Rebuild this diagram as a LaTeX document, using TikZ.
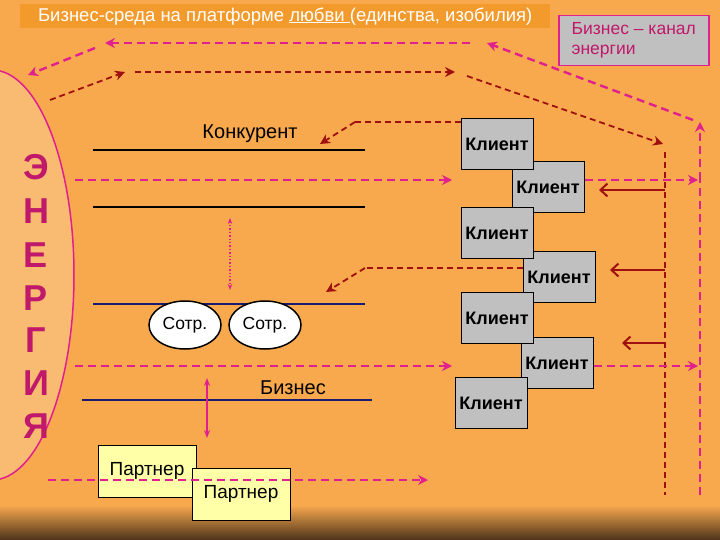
\documentclass[tikz,border=0pt]{standalone}
\usepackage{fontspec}
\setmainfont{Liberation Sans}
\usetikzlibrary{arrows.meta,shapes.geometric}
\definecolor{bg}{HTML}{F8A94E}
\definecolor{bar}{HTML}{F39A2C}
\definecolor{pk}{HTML}{E0208F}
\definecolor{dr}{HTML}{A01010}
\definecolor{nv}{HTML}{1A1A6E}
\definecolor{cl}{HTML}{C0C0C0}
\definecolor{pt}{HTML}{FFFFA8}
\definecolor{mg}{HTML}{C0186A}
\tikzset{
 pdash/.style={pk,line width=2.4pt,dash pattern=on 8pt off 5pt,-{Stealth[length=10pt,width=10pt]}},
 rdash/.style={dr,line width=1.8pt,dash pattern=on 6pt off 4pt,-{Stealth[length=10pt,width=10pt]}},
 rline/.style={dr,line width=1.8pt,dash pattern=on 6pt off 4pt},
 pline/.style={pk,line width=2.4pt,dash pattern=on 8pt off 5pt},
 client/.style={draw=black,line width=1pt,fill=cl,minimum width=72pt,minimum height=51pt,font=\fontsize{18}{20}\bfseries\selectfont,inner sep=1pt},
 partner/.style={draw=black,line width=1pt,fill=pt,minimum width=98pt,minimum height=52pt,font=\fontsize{19}{21}\selectfont,inner sep=1pt},
 sotr/.style={draw=black,line width=1.5pt,fill=white,ellipse,minimum width=72pt,minimum height=48pt,font=\fontsize{17.5}{19}\selectfont,inner sep=0pt},
 hl/.style={line width=2.4pt},
 lbl/.style={font=\fontsize{20}{22}\selectfont},
 ret/.style={dr,line width=2pt,-{Straight Barb[length=7pt,width=13pt]}},
 big/.style={mg,font=\fontsize{36}{36}\bfseries\selectfont}
}
\begin{document}
\begin{tikzpicture}[x=1pt,y=-1pt]
\useasboundingbox (0,0) rectangle (720,540);
\fill[bg] (0,0) rectangle (720,540);
\shade[top color=bg,bottom color=black!60!brown] (0,505) rectangle (720,540);
% title
\node[fill=bar,minimum width=530pt,minimum height=24pt,text=white,font=\fontsize{18.5}{20}\selectfont,anchor=north west,inner sep=1pt] (title) at (20,4) {Бизнес-среда на платформе \underline{любви }(единства, изобилия)};
\node[draw=pk,line width=1.5pt,fill=cl,anchor=north west,minimum width=150pt,minimum height=50pt,align=left,text=mg,font=\fontsize{17.5}{20}\selectfont,inner sep=3pt] (chan) at (558,15) {Бизнес -- канал\\энергии};
% energy ellipse
\fill[bg!80!white,draw=pk,line width=1.5pt] (-8,275) ellipse (82 and 205);
\node[big] (e1) at (36,167) {Э};
\node[big] (e2) at (36,211) {Н};
\node[big] (e3) at (36,255) {Е};
\node[big] (e4) at (36,298) {Р};
\node[big] (e5) at (36,340) {Г};
\node[big] (e6) at (36,383) {И};
\node[big] (e7) at (36,426) {Я};
% lines
\draw[hl,black] (93,150) -- (365,150);
\draw[hl,black] (93,207) -- (365,207);
\draw[hl,nv] (93,304) -- (365,304);
\draw[hl,nv] (82,400) -- (372,400);
\node[lbl] (konk) at (250,134) {Конкурент};
\node[lbl] (biz) at (293,388) {Бизнес};
\draw[pk,line width=1.4pt,dotted,{Stealth[length=6pt]}-{Stealth[length=6pt]}] (230,218) -- (230,290);
\draw[pk,line width=1.5pt,{Stealth[length=8pt]}-{Stealth[length=8pt]}] (207,378) -- (207,438);
\node[sotr] (s1) at (185,325) {Сотр.};
\node[sotr] (s2) at (265,325) {Сотр.};
% clients
\node[client] (c2) at (548,187) {Клиент};
\node[client] (c1) at (497,144) {Клиент};
\node[client] (c4) at (559,277) {Клиент};
\node[client] (c3) at (497,233) {Клиент};
\node[client] (c6) at (557,363) {Клиент};
\node[client] (c5) at (497,318) {Клиент};
\node[client] (c7) at (491,403) {Клиент};
% partners
\node[partner] (p1) at (147,471) {Партнер};
\node[partner] (p2) at (241,494) {Партнер};
% top loops
\coordinate (t1) at (700,180); \coordinate (t2) at (700,122); \coordinate (t3) at (487,43);
\coordinate (t4) at (105,43); \coordinate (t5) at (28,75);
\draw[pline] (700,495) -- (t1);
\draw[pdash] (t1) -- (t2);
\draw[pdash] (693,120) -- (t3);
\draw[pdash] (470,43) -- (t4);
\draw[pdash] (95,48) -- (t5);
\coordinate (r1) at (50,100); \coordinate (r2) at (125,72); \coordinate (r3) at (455,72); \coordinate (r4) at (663,144);
\draw[rdash] (r1) -- (r2);
\draw[rdash] (135,72) -- (r3);
\draw[rdash] (467,76) -- (r4);
\draw[rline] (665,152) -- (665,495);
\draw[ret] (665,190) -- (599,190);
\draw[ret] (665,270) -- (610,270);
\draw[ret] (665,343) -- (622,343);
% competitor feedback
\coordinate (f1) at (c1.west |- 0,122);
\coordinate (f2) at (c4.west |- 0,268);
\draw[rline] (f1) -- (355,122);
\draw[rdash] (355,122) -- (320,144);
\draw[rline] (f2) -- (365,268);
\draw[rdash] (365,268) -- (326,292);
% energy flows
\draw[pdash] (75,180) -- (452,180);
\draw[pdash] (75,366) -- (452,366);
\draw[pdash] (48,480) -- (428,480);
\draw[pdash] (c2.east |- 0,180) -- (698,180);
\draw[pdash] (c6.east |- 0,366) -- (698,366);
\end{tikzpicture}
\end{document}
